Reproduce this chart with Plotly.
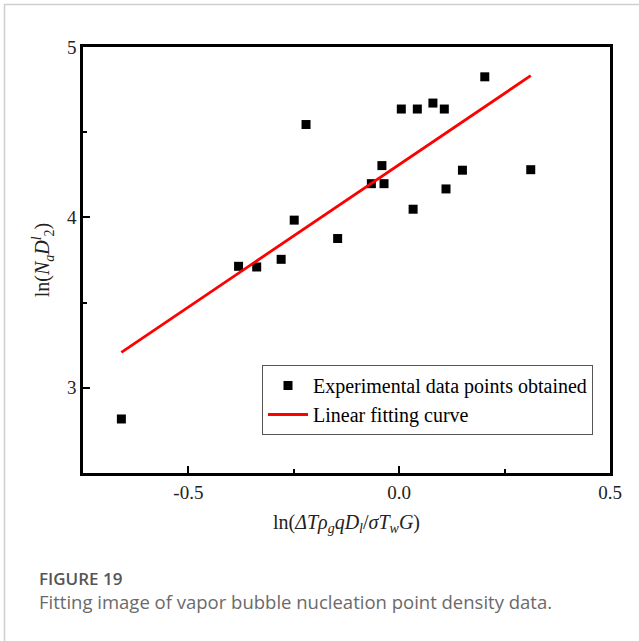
import plotly.graph_objects as go

# ---- data ----
x_data = [-0.659, -0.381, -0.338, -0.280, -0.249, -0.221, -0.146, -0.066, -0.041,
          -0.036, 0.005, 0.033, 0.043, 0.080, 0.107, 0.111, 0.150, 0.203, 0.312]
y_data = [2.817, 3.713, 3.709, 3.754, 3.984, 4.545, 3.876, 4.198, 4.304,
          4.198, 4.636, 4.048, 4.636, 4.671, 4.636, 4.167, 4.277, 4.825, 4.280]
fit_slope = 1.672
fit_intercept = 4.310

x_tickvals = [-0.5, 0.0, 0.5]
x_ticktext = ["-0.5", "0.0", "0.5"]
y_tickvals = [3, 4, 5]
y_ticktext = ["3", "4", "5"]

series_names = ["Experimental data points obtained", "Linear fitting curve"]
caption_title = "FIGURE 19"
caption_text = "Fitting image of vapor bubble nucleation point density data."

x_fit = [min(x_data), max(x_data)]
y_fit = [fit_intercept + fit_slope * v for v in x_fit]

SERIF = "Liberation Serif, Times New Roman, serif"

fig = go.Figure()
fig.add_trace(go.Scatter(
    x=x_data, y=y_data, mode="markers", name=series_names[0],
    marker=dict(symbol="square", size=9, color="black"),
))
fig.add_trace(go.Scatter(
    x=x_fit, y=y_fit, mode="lines", name=series_names[1],
    line=dict(color="#ff0000", width=2.8),
))

axis_common = dict(
    showgrid=False, zeroline=False, showline=True, linecolor="black",
    linewidth=2.5, mirror=True, ticks="inside", ticklen=7, tickwidth=2,
    tickcolor="black", tickfont=dict(family=SERIF, size=19, color="#222"),
)

fig.update_xaxes(
    range=[-0.75, 0.5], tickvals=x_tickvals, ticktext=x_ticktext,
    minor=dict(ticks="inside", ticklen=4, tickwidth=2, tickcolor="black",
               tickvals=[-0.25, 0.25]),
    title=dict(text="ln(<i>ΔTρ</i><sub><i>g</i></sub><i>qD</i><sub><i>l</i></sub>/<i>σT</i><sub><i>w</i></sub><i>G</i>)",
               font=dict(family=SERIF, size=20, color="#222"), standoff=14),
    **axis_common,
)
fig.update_yaxes(
    range=[2.5, 5], tickvals=y_tickvals, ticktext=y_ticktext,
    minor=dict(ticks="inside", ticklen=4, tickwidth=2, tickcolor="black",
               tickvals=[3.5, 4.5]),
    title=dict(text="ln(<i>N</i><sub><i>a</i></sub><i>D</i><sup><i>l</i></sup><sub>2</sub>)",
               font=dict(family=SERIF, size=20, color="#222"), standoff=12),
    **axis_common,
)

L, R, T, B = 83, 29, 47, 168
W, H = 639, 641
pw, ph = W - L - R, H - T - B

def px2paper_x(px):
    return (px - L) / pw

def px2paper_y(py):
    return (H - B - py) / ph

fig.update_layout(
    width=W, height=H,
    margin=dict(l=L, r=R, t=T, b=B, pad=0),
    paper_bgcolor="white", plot_bgcolor="white",
    showlegend=True,
    legend=dict(
        x=px2paper_x(262), y=px2paper_y(365), xanchor="left", yanchor="top",
        bgcolor="white", bordercolor="#555", borderwidth=1,
        font=dict(family=SERIF, size=20, color="#000"),
        itemwidth=40, tracegroupgap=0,
    ),
    shapes=[
        dict(type="line", xref="paper", yref="paper",
             x0=px2paper_x(4), x1=px2paper_x(660), y0=px2paper_y(4.5), y1=px2paper_y(4.5),
             line=dict(color="#cfcfcf", width=1.5)),
        dict(type="line", xref="paper", yref="paper",
             x0=px2paper_x(4.5), x1=px2paper_x(4.5), y0=px2paper_y(4), y1=px2paper_y(660),
             line=dict(color="#cfcfcf", width=1.5)),
    ],
    annotations=[
        dict(text=caption_title, xref="paper", yref="paper",
             x=px2paper_x(37), y=px2paper_y(578), xanchor="left", yanchor="middle",
             showarrow=False,
             font=dict(family="Open Sans, sans-serif", size=17, color="#555", weight=600)),
        dict(text=caption_text, xref="paper", yref="paper",
             x=px2paper_x(37), y=px2paper_y(601), xanchor="left", yanchor="middle",
             showarrow=False,
             font=dict(family="Open Sans, sans-serif", size=18.5, color="#6a6a6a")),
    ],
)

fig.write_html("out.html", config={"displayModeBar": False},
               post_script="document.body.style.margin='0';")
